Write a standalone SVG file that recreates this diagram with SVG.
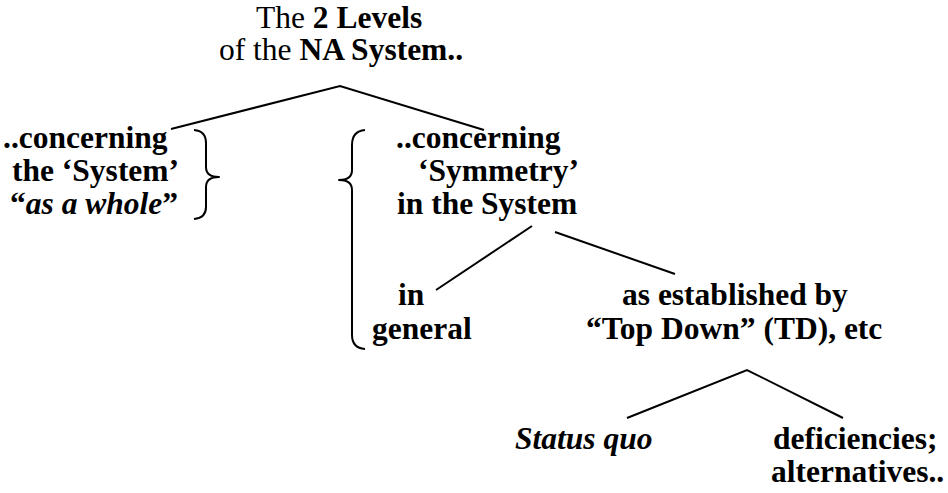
<svg xmlns="http://www.w3.org/2000/svg" width="948" height="493" viewBox="0 0 948 493">
  <style>
    text { font-family: "Liberation Serif", "Times New Roman", serif; font-size: 31.5px; fill: #000; }
    .b { font-weight: bold; }
    .i { font-style: italic; }
    .edge { fill: none; stroke: #000; stroke-width: 2; }
    .brace { fill: none; stroke: #000; stroke-width: 2; stroke-linejoin: round; }
  </style>
  <rect width="948" height="493" fill="#fff"/>

  <g id="connectors">
    <polyline class="edge" points="171,129 340,86 484,130"/>
    <line class="edge" x1="532" y1="226" x2="436" y2="290"/>
    <line class="edge" x1="555" y1="232" x2="675" y2="274"/>
    <polyline class="edge" points="627,418 747,370 843,418"/>
  </g>

  <g id="root">
    <text x="256" y="28">The <tspan class="b">2 Levels</tspan></text>
    <text x="219" y="60">of the <tspan class="b">NA System..</tspan></text>
  </g>

  <g id="whole">
    <text class="b" x="3" y="148">..concerning</text>
    <text class="b" x="12" y="181">the ‘System’</text>
    <text class="b" x="10" y="214">“<tspan class="i">as a whole</tspan>”</text>
    <path class="brace" d="M194,130 Q206,131 206,143 L206,167 Q206,177 219,177 Q206,177 206,187 L206,207 Q206,218 194,219"/>
  </g>

  <g id="symmetry">
    <path class="brace" d="M365,130 Q352,131 352,145 L352,170 Q352,180 339,180 Q352,180 352,190 L352,335 Q352,348 365,349"/>
    <text class="b" x="396" y="148">..concerning</text>
    <text class="b" x="418" y="181">‘Symmetry’</text>
    <text class="b" x="397" y="214">in the System</text>
  </g>

  <g id="general">
    <text class="b" x="398" y="305">in</text>
    <text class="b" x="372" y="339">general</text>
  </g>

  <g id="top-down">
    <text class="b" x="622" y="305">as established by</text>
    <text class="b" x="586" y="339">“Top Down” (TD), etc</text>
  </g>

  <g id="status-quo">
    <text class="b i" x="515" y="449">Status quo</text>
  </g>

  <g id="alternatives">
    <text class="b" x="773" y="449">deficiencies;</text>
    <text class="b" x="771" y="482">alternatives..</text>
  </g>
</svg>
